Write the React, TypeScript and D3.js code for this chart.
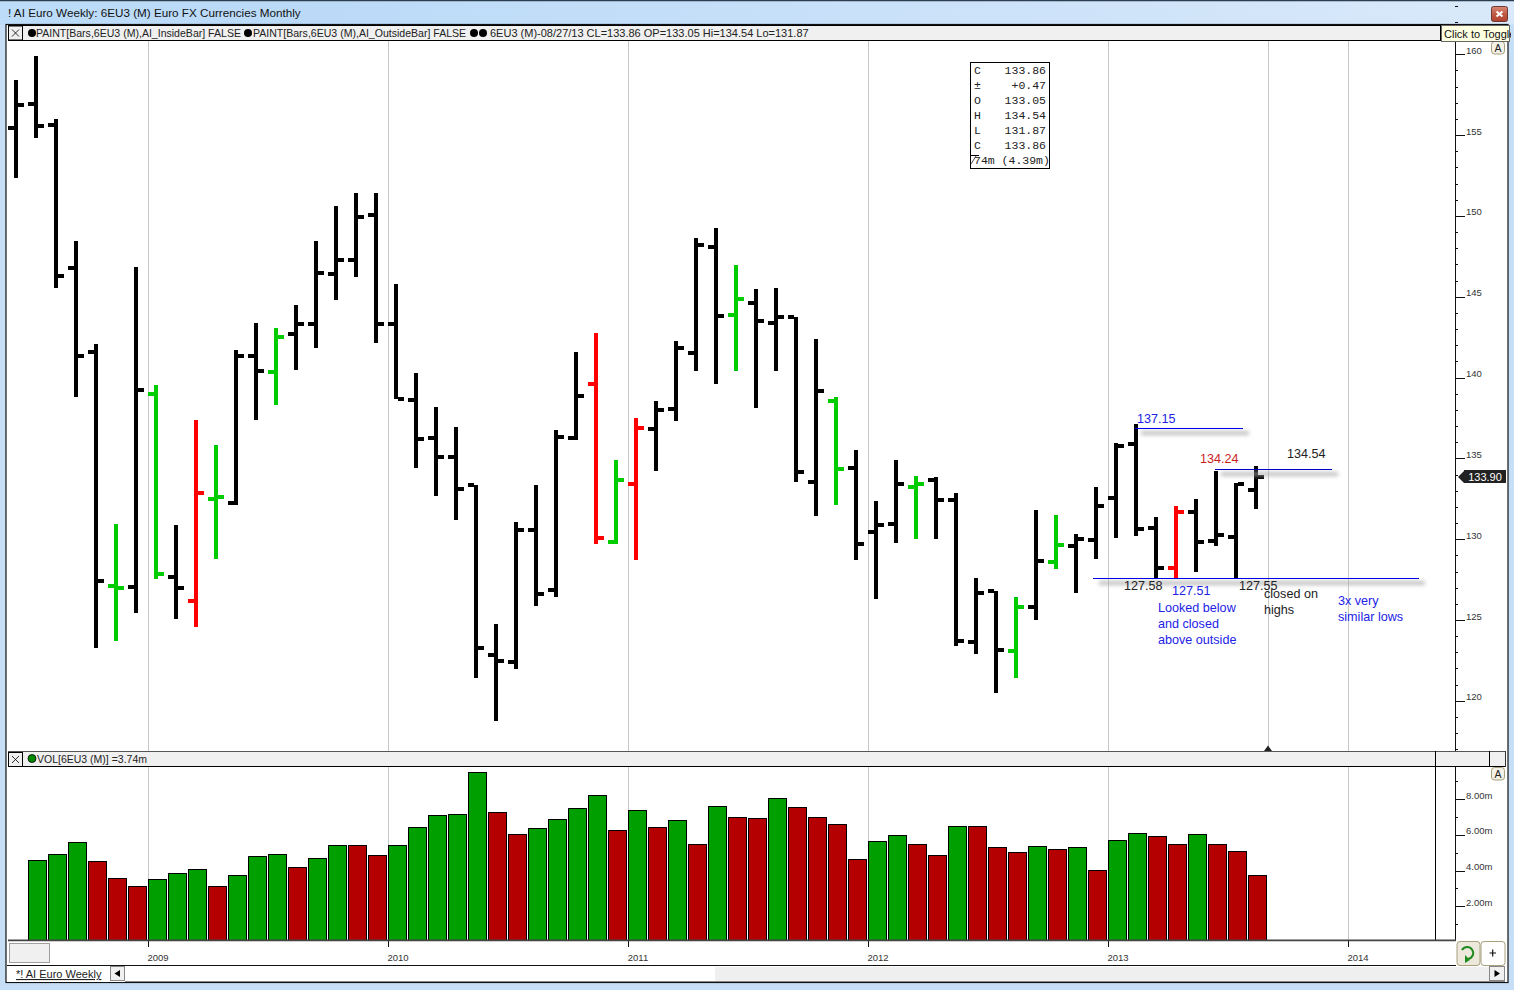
import React from "react";
import * as d3 from "d3";

// monthly 6EU3 bars, first bar is Aug 2008 or so
const opens = [155.44, 156.93, 155.63, 146.78, 141.58, 127.10, 127.04, 138.98, 127.66, 126.18, 132.49, 132.24, 141.33, 140.34, 142.70, 143.31, 146.41, 147.27, 150.06, 143.31, 138.61, 136.26, 135.09, 133.35, 122.84, 122.40, 130.57, 126.86, 136.26, 139.60, 129.83, 133.41, 136.82, 138.06, 141.52, 148.08, 143.87, 144.61, 143.38, 143.75, 133.54, 138.55, 134.41, 130.45, 130.94, 133.23, 133.66, 132.42, 123.64, 126.80, 123.08, 125.81, 128.59, 129.58, 129.95, 132.55, 135.89, 130.69, 128.22, 131.68, 129.89, 130.14, 133.05];
const highs = [158.41, 159.90, 156.00, 148.45, 142.08, 130.94, 146.84, 139.54, 130.88, 137.37, 135.83, 141.71, 143.38, 143.07, 144.49, 148.45, 150.61, 151.42, 151.42, 145.79, 140.28, 138.18, 136.94, 133.35, 124.75, 131.06, 133.35, 136.76, 141.58, 142.76, 134.90, 137.50, 138.55, 142.26, 148.63, 149.25, 146.96, 145.48, 145.54, 143.75, 142.39, 138.80, 135.52, 132.36, 134.90, 133.91, 133.85, 132.86, 127.60, 126.80, 126.42, 131.81, 131.50, 130.32, 133.23, 135.95, 137.15, 131.37, 132.05, 132.49, 134.24, 133.48, 134.54];
const lows = [152.35, 154.82, 145.54, 138.80, 123.27, 123.70, 125.43, 127.54, 125.06, 124.57, 128.77, 132.12, 137.37, 138.30, 140.47, 141.83, 144.80, 146.22, 142.14, 138.67, 134.41, 132.67, 131.19, 121.41, 118.75, 121.97, 125.87, 126.42, 136.14, 129.70, 129.70, 128.71, 134.22, 137.31, 140.41, 139.60, 140.41, 138.12, 140.41, 133.54, 131.44, 132.12, 128.71, 126.30, 129.76, 130.01, 130.01, 123.39, 122.90, 120.48, 121.41, 125.00, 128.16, 126.67, 128.77, 130.07, 130.20, 127.58, 127.51, 127.97, 129.58, 127.55, 131.87];
const closes = [156.86, 155.56, 146.28, 141.33, 127.41, 126.98, 139.23, 127.85, 126.98, 132.86, 132.61, 141.33, 140.41, 142.51, 143.31, 146.47, 147.27, 149.93, 143.31, 138.67, 136.20, 135.09, 133.11, 123.27, 122.46, 130.57, 126.61, 136.32, 138.86, 130.07, 133.66, 136.88, 137.99, 141.83, 148.20, 143.81, 144.86, 143.50, 143.75, 134.16, 139.17, 134.34, 129.70, 130.88, 133.41, 133.41, 132.42, 123.70, 126.67, 123.14, 125.81, 128.65, 129.64, 130.01, 132.05, 135.77, 130.63, 128.22, 131.68, 129.83, 130.26, 133.41, 133.86];

// bars painted by the AI_InsideBar / AI_OutsideBar formulas
const insideBars = [5, 7, 10, 13, 30, 36, 41, 45, 50, 52];
const outsideBars = [9, 29, 31, 58];

// volume in millions, starts at the 2nd price bar
const volumes = [4.58, 4.92, 5.60, 4.53, 3.57, 3.12, 3.52, 3.85, 4.08, 3.12, 3.74, 4.81, 4.92, 4.19, 4.70, 5.43, 5.43, 4.87, 5.43, 6.46, 7.13, 7.19, 9.54, 7.30, 6.06, 6.40, 6.90, 7.52, 8.25, 6.29, 7.41, 6.46, 6.85, 5.50, 7.63, 7.02, 6.96, 8.08, 7.58, 7.02, 6.62, 4.66, 5.67, 6.01, 5.50, 4.88, 6.51, 6.51, 5.33, 5.05, 5.39, 5.22, 5.33, 4.04, 5.72, 6.12, 5.95, 5.50, 6.06, 5.50, 5.11, 3.74];
const volumeColors = "gggrrrgggrgggrggrrggggg rrggggrgrgrgrrgrrrrggrrgrrrgrgrggrrgrrr".replace(" ", "").split("");

const yearLabels = ["2009", "2010", "2011", "2012", "2013", "2014"];
const yearPositions = [6.6, 18.6, 30.6, 42.6, 54.6, 66.6];
const lastBarCursor = 62.6;

const priceTicks = [120, 125, 130, 135, 140, 145, 150, 155, 160];
const volumeTicks = [2, 4, 6, 8];

const infoLabels = ["C", "±", "O", "H", "L", "C"];
const infoValues = ["133.86", "+0.47", "133.05", "134.54", "131.87", "133.86"];

const UI = "Tahoma, 'Liberation Sans', Arial, sans-serif";
const MONO = "'Liberation Mono', monospace";
const BLUE = "#2222e6";

const x = d3.scaleLinear().domain([0, 62]).range([16, 1256]);
const yPrice = d3.scaleLinear().domain([120, 160]).range([700.8, 54.3]);
const yVol = d3.scaleLinear().domain([0, 8]).range([941.9, 799.3]);

function barColor(i: number) {
    if (insideBars.includes(i)) return "#00cc00";
    if (outsideBars.includes(i)) return "#ff0000";
    return "#000";
}

function Dot({ cx, cy, fill = "#000" }: { cx: number; cy: number; fill?: string }) {
    return <circle cx={cx} cy={cy} r={4} fill={fill} stroke="#000" strokeWidth={fill === "#000" ? 0 : 0.8} />;
}

function XBox({ y }: { y: number }) {
    return (
        <g>
            <rect x={8.5} y={y} width={14} height={14} fill="#f0f0f0" stroke="#000" />
            <path d={`M12 ${y + 3.5}L19 ${y + 10.5}M19 ${y + 3.5}L12 ${y + 10.5}`} stroke="#000" strokeWidth={0.8} />
        </g>
    );
}

function AButton({ y }: { y: number }) {
    return (
        <g>
            <rect x={1491.5} y={y} width={13} height={12.5} rx={3} fill="#f4f1e6" stroke="#a89f7c" />
            <text x={1498} y={y + 10} textAnchor="middle" fontSize={10.5} fontFamily={UI} fill="#222">A</text>
        </g>
    );
}

function Note({ x: tx, y, color = "#222", children }: { x: number; y: number; color?: string; children: string }) {
    return <text x={tx} y={y} fontFamily={UI} fontSize={12.6} fill={color}>{children}</text>;
}

function DrawnLine({ x1, x2, value, color }: { x1: number; x2: number; value: number; color: string }) {
    const yy = Math.round(yPrice(value)) + 0.5;
    return (
        <g>
            {/* a rect, a flat line has no box for the blur */}
            <rect x={x1 + 6} width={x2 - x1} y={yy + 3} height={3} fill="#aaa" filter="url(#lineShadow)" />
            <line x1={x1} x2={x2} y1={yy} y2={yy} stroke={color} strokeWidth={1} shapeRendering="crispEdges" />
        </g>
    );
}

export default function App() {
    const priceAxisRef = React.useRef<SVGGElement | null>(null);
    const priceMinorRef = React.useRef<SVGGElement | null>(null);
    const volAxisRef = React.useRef<SVGGElement | null>(null);
    const volMinorRef = React.useRef<SVGGElement | null>(null);

    React.useEffect(() => {
        const style = (sel: d3.Selection<SVGGElement, unknown, null, undefined>) => {
            sel.select(".domain").remove();
            sel.selectAll("line").attr("stroke", "#111").attr("shape-rendering", "crispEdges");
            // labels sit a little above their tick
            sel.selectAll("text")
                .attr("font-family", UI)
                .attr("font-size", 9.5)
                .attr("fill", "#333")
                .attr("y", -4);
        };

        const price = d3.select(priceAxisRef.current!);
        price.call(
            d3.axisRight(yPrice).tickValues(priceTicks).tickSize(10).tickPadding(1).tickFormat(d3.format("d"))
        );
        style(price);

        const priceMinor = d3.select(priceMinorRef.current!);
        priceMinor.call(d3.axisRight(yPrice).tickValues(d3.range(117, 164)).tickSize(3).tickFormat(() => ""));
        style(priceMinor);

        const vol = d3.select(volAxisRef.current!);
        vol.call(
            d3.axisRight(yVol).tickValues(volumeTicks).tickSize(10).tickPadding(1).tickFormat(d => `${(+d).toFixed(2)}m`)
        );
        style(vol);

        const volMinor = d3.select(volMinorRef.current!);
        volMinor.call(d3.axisRight(yVol).tickValues([1, 3, 5, 7, 9]).tickSize(3).tickFormat(() => ""));
        style(volMinor);
    }, []);

    return (
        <svg
            width={1514}
            height={990}
            style={{ position: "absolute", left: 0, top: 0, display: "block", background: "#fff" }}
        >
            <defs>
                <linearGradient id="titleBar" x1="0" x2="1" y1="0" y2="0">
                    <stop offset="0" stopColor="#bcdcf9" />
                    <stop offset="0.2" stopColor="#bbdaf8" />
                    <stop offset="1" stopColor="#d9e9fa" />
                </linearGradient>
                <linearGradient id="closeBtn" x1="0" x2="0" y1="0" y2="1">
                    <stop offset="0" stopColor="#d98a78" />
                    <stop offset="0.5" stopColor="#c05a44" />
                    <stop offset="1" stopColor="#b04030" />
                </linearGradient>
                <filter id="lineShadow" x="-5%" y="-300%" width="110%" height="700%">
                    <feGaussianBlur stdDeviation="2" />
                </filter>
                <clipPath id="pricePane"><rect x={8} y={41} width={1447} height={710} /></clipPath>
                <clipPath id="tipClip"><rect x={1441} y={25} width={70} height={17} /></clipPath>
            </defs>

            {/* window frame */}
            <rect x={0} y={0} width={1514} height={990} fill="#c6dff7" />
            <rect x={0} y={0} width={1514} height={1.5} fill="#2c3e50" />
            <rect x={0} y={1.5} width={1514} height={23} fill="url(#titleBar)" />
            <text x={8} y={17} fontFamily={UI} fontSize={11.7} fill="#111">! AI Euro Weekly: 6EU3 (M) Euro FX Currencies Monthly</text>
            <rect x={1491.5} y={6.5} width={16} height={15} rx={2} fill="url(#closeBtn)" stroke="#6d3a30" />
            <path d="M1496.5 11.5L1502.5 16.5M1502.5 11.5L1496.5 16.5" stroke="#fff" strokeWidth={2} />
            <rect x={6} y={24.5} width={1502} height={958} fill="#fff" stroke="#111" strokeWidth={1.2} />

            {/* price pane */}
            <g shapeRendering="crispEdges">
                {[...yearPositions, lastBarCursor].map(p => (
                    <line key={p} x1={Math.round(x(p)) + 0.5} x2={Math.round(x(p)) + 0.5} y1={41} y2={751} stroke="#c8c8c8" />
                ))}
                {yearPositions.map(p => (
                    <line key={p} x1={Math.round(x(p)) + 0.5} x2={Math.round(x(p)) + 0.5} y1={767} y2={940} stroke="#c8c8c8" />
                ))}
            </g>

            <g clipPath="url(#pricePane)" shapeRendering="crispEdges">
                {opens.map((o, i) => {
                    const cx = x(i);
                    const c = barColor(i);
                    return (
                        <g key={i} fill={c}>
                            <rect x={cx - 2} y={yPrice(highs[i])} width={4} height={yPrice(lows[i]) - yPrice(highs[i])} />
                            <rect x={cx - 8} y={yPrice(o) - 2} width={6} height={4} />
                            <rect x={cx + 2} y={yPrice(closes[i]) - 2} width={6} height={4} />
                        </g>
                    );
                })}
            </g>

            {/* drawn lines and notes */}
            <g clipPath="url(#pricePane)">
                <DrawnLine x1={1135} x2={1243} value={136.85} color="#0000ee" />
                <DrawnLine x1={1215} x2={1332} value={134.35} color="#0000c8" />
                <DrawnLine x1={1093} x2={1419} value={127.6} color="#0000ee" />
            </g>
            <Note x={1137} y={422.5} color={BLUE}>137.15</Note>
            <Note x={1200} y={463} color="#c81e1e">134.24</Note>
            <Note x={1287} y={458}>134.54</Note>
            <Note x={1124} y={590}>127.58</Note>
            <Note x={1172} y={595} color={BLUE}>127.51</Note>
            <Note x={1239} y={590}>127.55</Note>
            <Note x={1264} y={598}>closed on</Note>
            <Note x={1264} y={614}>highs</Note>
            <Note x={1158} y={612} color={BLUE}>Looked below</Note>
            <Note x={1158} y={628} color={BLUE}>and closed</Note>
            <Note x={1158} y={644} color={BLUE}>above outside</Note>
            <Note x={1338} y={605} color={BLUE}>3x very</Note>
            <Note x={1338} y={621} color={BLUE}>similar lows</Note>

            {/* data box */}
            <rect x={970.5} y={62.5} width={79} height={106} fill="#fff" stroke="#000" />
            {infoLabels.map((l, i) => (
                <text key={i} x={974} y={74 + i * 15} fontFamily={MONO} fontSize={11.5} fill="#222">{l}</text>
            ))}
            {infoValues.map((v, i) => (
                <text key={i} x={1046} y={74 + i * 15} textAnchor="end" fontFamily={MONO} fontSize={11.5} fill="#222">{v}</text>
            ))}
            <text x={974} y={164} fontFamily={MONO} fontSize={11.5} fill="#222">74m (4.39m)</text>
            <path d="M971 164L976 156" stroke="#222" strokeWidth={0.8} fill="none" />
            <line x1={970} x2={979} y1={155.5} y2={155.5} stroke="#000" />

            {/* price axis */}
            <line x1={1455.5} x2={1455.5} y1={41} y2={751} stroke="#111" shapeRendering="crispEdges" />
            <g ref={priceMinorRef} transform="translate(1455,0)" />
            <g ref={priceAxisRef} transform="translate(1455,0)" />
            <path d="M1458 477L1464 471V483Z" fill="#222" />
            <rect x={1464} y={470} width={42} height={13} fill="#222" />
            <text x={1485} y={481} textAnchor="middle" fontFamily={UI} fontSize={11} fill="#fff">133.90</text>
            <AButton y={41.5} />

            {/* volume header */}
            <rect x={8} y={751.5} width={1498} height={15} fill="#f0f0f0" />
            <line x1={8} x2={1506} y1={751.5} y2={751.5} stroke="#555" />
            <line x1={8} x2={1506} y1={766.5} y2={766.5} stroke="#000" />
            <line x1={1505.5} x2={1505.5} y1={751} y2={767} stroke="#333" />
            <line x1={1489.5} x2={1489.5} y1={751} y2={767} stroke="#000" />
            <line x1={1435.5} x2={1435.5} y1={751} y2={941} stroke="#000" />
            <path d="M1264 751L1268 745.5L1272 751Z" fill="#222" />
            <XBox y={752.5} />
            <Dot cx={32} cy={758.5} fill="#008a00" />
            <text x={37} y={763} fontFamily={UI} fontSize={10.5} fill="#222">VOL[6EU3 (M)] =3.74m</text>

            {/* volume bars */}
            <g shapeRendering="crispEdges" stroke="#000">
                {volumes.map((v, i) => {
                    const left = x(i + 1) - 7.5;
                    const top = Math.round(yVol(v)) + 0.5;
                    return (
                        <rect
                            key={i}
                            x={left}
                            y={top}
                            width={18}
                            height={940 - top}
                            fill={volumeColors[i] === "g" ? "#009f00" : "#b40000"}
                        />
                    );
                })}
            </g>

            {/* volume axis */}
            <line x1={1455.5} x2={1455.5} y1={767} y2={940} stroke="#111" shapeRendering="crispEdges" />
            <g ref={volMinorRef} transform="translate(1455,0)" />
            <g ref={volAxisRef} transform="translate(1455,0)" />
            <AButton y={767.5} />

            {/* date axis */}
            <rect x={8} y={939.5} width={1448} height={2} fill="#444" />
            <rect x={7} y={941.5} width={1449} height={24} fill="#fff" />
            <rect x={9.5} y={943.5} width={40} height={19} fill="#f0f0f0" stroke="#a0a0a0" />
            {yearPositions.map((p, i) => (
                <g key={p}>
                    <line x1={Math.round(x(p)) + 0.5} x2={Math.round(x(p)) + 0.5} y1={941} y2={947} stroke="#111" shapeRendering="crispEdges" />
                    <text x={Math.round(x(p)) + 10} y={961} textAnchor="middle" fontFamily={UI} fontSize={9.5} fill="#333">{yearLabels[i]}</text>
                </g>
            ))}
            <line x1={7} x2={1456} y1={965.5} y2={965.5} stroke="#111" />

            {/* refresh and plus buttons */}
            <rect x={1457} y={941.5} width={23} height={24} rx={3} fill="#ece9dc" stroke="#a89f7c" />
            <path d="M1462 950a6 6 0 1 1 6 9" fill="none" stroke="#1f8a1f" strokeWidth={2} />
            <path d="M1465 955L1470 960L1465 963Z" fill="#1f8a1f" />
            <rect x={1481} y={941.5} width={24} height={24} rx={3} fill="#fff" stroke="#a89f7c" />
            <path d="M1489.5 953H1496M1492.7 949.5V956.5" stroke="#111" strokeWidth={1.2} />

            {/* tab strip and scroll bar */}
            <rect x={7} y={966} width={1500} height={16} fill="#fff" />
            <text x={16} y={978} fontFamily={UI} fontSize={11} fill="#222" textDecoration="underline">*! AI Euro Weekly</text>
            <rect x={110.5} y={966.5} width={14} height={14} fill="#f0f0f0" stroke="#888" />
            <path d="M120 970L114.5 973.5L120 977Z" fill="#000" />
            <rect x={125} y={967} width={590} height={14} fill="#fff" />
            <rect x={715} y={967} width={774} height={14} fill="#efefef" />
            <line x1={125} x2={1505} y1={981.5} y2={981.5} stroke="#888" />
            <rect x={1489.5} y={966.5} width={15} height={14} fill="#f0f0f0" stroke="#888" />
            <path d="M1494.5 970L1500 973.5L1494.5 977Z" fill="#000" />

            {/* price pane header goes on top */}
            <rect x={8.5} y={25.5} width={1432} height={15} fill="#f0f0f0" stroke="#000" />
            <XBox y={26} />
            <Dot cx={32} cy={33} />
            <text x={36} y={37} fontFamily={UI} fontSize={10.55} fill="#222">PAINT[Bars,6EU3 (M),AI_InsideBar] FALSE</text>
            <Dot cx={248} cy={33} />
            <text x={253} y={37} fontFamily={UI} fontSize={10.55} fill="#222">PAINT[Bars,6EU3 (M),AI_OutsideBar] FALSE</text>
            <Dot cx={474} cy={33} />
            <Dot cx={483} cy={33} />
            <text x={490} y={37} fontFamily={UI} fontSize={11} fill="#222">6EU3 (M)-08/27/13 CL=133.86 OP=133.05 Hi=134.54 Lo=131.87</text>

            {/* the tooltip left on screen */}
            <rect x={1441.5} y={25.5} width={68} height={16} fill="#ffffe1" stroke="#666" />
            <g clipPath="url(#tipClip)">
                <text x={1444} y={37.5} fontFamily={UI} fontSize={11} fill="#111">Click to Toggle</text>
            </g>
        </svg>
    );
}
